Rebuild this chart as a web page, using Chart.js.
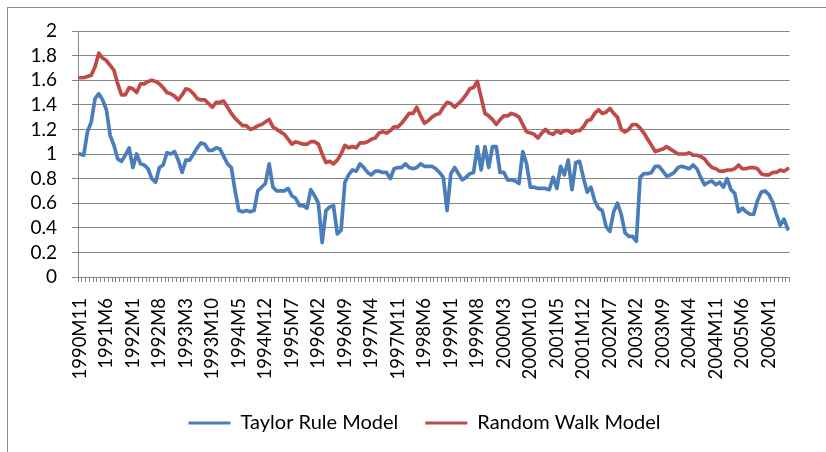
<!DOCTYPE html>
<html>
<head>
<meta charset="utf-8">
<script src="https://cdn.jsdelivr.net/npm/chart.js@4/dist/chart.umd.min.js"></script>
<style>
  body { margin: 0; background: #fff; }
  #wrap { position: relative; width: 826px; height: 452px; overflow: hidden; }
  #borda { position: absolute; left: 7px; top: 7px; width: 900px; height: 500px;
           border-left: 1px solid #8c8c8c; border-top: 1px solid #8c8c8c; }
  #grafico { position: absolute; left: 0; top: 0; }
</style>
</head>
<body>
<div id="wrap">
  <div id="borda"></div>
  <canvas id="grafico" width="826" height="452"></canvas>
</div>
<script>
// categorias mensais
const meses = [
  '1990M11','1990M12',
  '1991M1','1991M2','1991M3','1991M4','1991M5','1991M6','1991M7','1991M8','1991M9','1991M10','1991M11','1991M12',
  '1992M1','1992M2','1992M3','1992M4','1992M5','1992M6','1992M7','1992M8','1992M9','1992M10','1992M11','1992M12',
  '1993M1','1993M2','1993M3','1993M4','1993M5','1993M6','1993M7','1993M8','1993M9','1993M10','1993M11','1993M12',
  '1994M1','1994M2','1994M3','1994M4','1994M5','1994M6','1994M7','1994M8','1994M9','1994M10','1994M11','1994M12',
  '1995M1','1995M2','1995M3','1995M4','1995M5','1995M6','1995M7','1995M8','1995M9','1995M10','1995M11','1995M12',
  '1996M1','1996M2','1996M3','1996M4','1996M5','1996M6','1996M7','1996M8','1996M9','1996M10','1996M11','1996M12',
  '1997M1','1997M2','1997M3','1997M4','1997M5','1997M6','1997M7','1997M8','1997M9','1997M10','1997M11','1997M12',
  '1998M1','1998M2','1998M3','1998M4','1998M5','1998M6','1998M7','1998M8','1998M9','1998M10','1998M11','1998M12',
  '1999M1','1999M2','1999M3','1999M4','1999M5','1999M6','1999M7','1999M8','1999M9','1999M10','1999M11','1999M12',
  '2000M1','2000M2','2000M3','2000M4','2000M5','2000M6','2000M7','2000M8','2000M9','2000M10','2000M11','2000M12',
  '2001M1','2001M2','2001M3','2001M4','2001M5','2001M6','2001M7','2001M8','2001M9','2001M10','2001M11','2001M12',
  '2002M1','2002M2','2002M3','2002M4','2002M5','2002M6','2002M7','2002M8','2002M9','2002M10','2002M11','2002M12',
  '2003M1','2003M2','2003M3','2003M4','2003M5','2003M6','2003M7','2003M8','2003M9','2003M10','2003M11','2003M12',
  '2004M1','2004M2','2004M3','2004M4','2004M5','2004M6','2004M7','2004M8','2004M9','2004M10','2004M11','2004M12',
  '2005M1','2005M2','2005M3','2005M4','2005M5','2005M6','2005M7','2005M8','2005M9','2005M10','2005M11','2005M12',
  '2006M1','2006M2','2006M3','2006M4','2006M5','2006M6'
];

const taylorRule = [
  1.00,0.99,1.18,1.26,1.45,1.49,1.44,1.36,1.15,1.07,
  0.96,0.94,0.99,1.05,0.89,1.00,0.92,0.91,0.88,0.80,
  0.77,0.89,0.91,1.01,1.00,1.02,0.95,0.85,0.95,0.95,
  1.00,1.05,1.09,1.08,1.03,1.03,1.05,1.04,0.98,0.92,
  0.89,0.70,0.54,0.53,0.54,0.53,0.54,0.70,0.73,0.76,
  0.92,0.73,0.70,0.70,0.70,0.72,0.66,0.64,0.58,0.58,
  0.56,0.71,0.66,0.60,0.28,0.54,0.57,0.58,0.35,0.38,
  0.77,0.83,0.87,0.86,0.92,0.89,0.85,0.83,0.86,0.86,
  0.85,0.85,0.80,0.88,0.89,0.89,
  0.92,0.89,0.88,0.89,0.92,0.90,0.90,0.90,0.88,0.85,
  0.81,0.54,0.84,0.89,0.84,0.79,0.81,0.84,0.85,1.06,
  0.87,1.06,0.89,1.06,1.06,0.85,0.85,0.79,0.79,0.78,
  0.76,1.02,0.92,0.73,0.73,0.72,0.72,0.72,0.71,0.81,
  0.72,0.90,0.83,0.95,0.71,0.93,0.94,0.81,0.69,0.73,
  0.62,0.56,0.54,0.41,0.37,0.53,0.60,0.51,0.36,0.33,
  0.33,0.29,0.81,0.84,0.84,0.85,0.90,0.90,0.86,0.82,
  0.83,0.85,0.89,0.90,0.89,0.88,0.91,0.88,0.81,0.75,
  0.77,0.78,0.75,0.77,0.73,0.80,0.71,0.68,0.53,0.56,
  0.53,0.51,0.51,0.62,0.69,0.70,0.67,0.61,0.51,0.42,
  0.47,0.39
];

const randomWalk = [
  1.62,1.62,1.63,1.64,1.71,1.82,1.78,1.76,1.72,1.68,
  1.57,1.48,1.48,1.54,1.53,1.50,1.57,1.57,1.59,1.60,
  1.59,1.57,1.54,1.50,1.49,1.47,1.44,1.48,1.53,1.52,
  1.49,1.45,1.44,1.44,1.41,1.38,1.42,1.42,1.43,1.38,
  1.33,1.29,1.26,1.23,1.23,1.20,1.21,1.23,1.24,1.26,
  1.28,1.22,1.20,1.18,1.16,1.12,1.08,1.10,1.09,1.08,
  1.08,1.10,1.10,1.08,1.00,0.93,0.94,0.92,0.95,1.00,
  1.07,1.05,1.06,1.05,1.09,1.09,1.10,1.12,1.13,1.17,
  1.18,1.17,1.19,1.22,1.22,1.25,
  1.29,1.33,1.33,1.38,1.31,1.25,1.27,1.30,1.32,1.33,
  1.38,1.42,1.41,1.38,1.41,1.44,1.48,1.53,1.54,1.59,
  1.46,1.33,1.31,1.28,1.24,1.28,1.31,1.31,1.33,1.32,
  1.30,1.24,1.18,1.17,1.16,1.13,1.17,1.20,1.17,1.16,
  1.19,1.17,1.19,1.19,1.17,1.19,1.19,1.22,1.27,1.28,
  1.33,1.36,1.33,1.34,1.37,1.33,1.30,1.20,1.18,1.20,
  1.24,1.24,1.21,1.17,1.12,1.07,1.02,1.03,1.04,1.06,
  1.04,1.02,1.00,1.00,1.00,1.01,0.99,0.99,0.98,0.96,
  0.92,0.89,0.88,0.86,0.86,0.87,0.87,0.88,0.91,0.88,
  0.88,0.89,0.89,0.88,0.84,0.83,0.83,0.85,0.85,0.87,
  0.86,0.88
];

const nomesSeries = ['Taylor Rule Model', 'Random Walk Model'];
const passoRotulo = 7;

const fonteLegenda = { family: 'Lato', size: 20 };
const fonteX = { family: 'Lato', size: 18.5 };
const fonteY = { family: 'Lato', size: 19 };
const cinza = '#868686';

// empurra a legenda um pouco para a direita, como no original
const deslocaLegenda = {
  id: 'deslocaLegenda',
  afterLayout(chart) {
    chart.legend.left += 6;
    chart.legend.right += 6;
  }
};

const ctx = document.getElementById('grafico').getContext('2d');

new Chart(ctx, {
  type: 'line',
  data: {
    labels: meses,
    datasets: [{
      label: nomesSeries[0],
      data: taylorRule,
      borderColor: '#4a7ebb',
      backgroundColor: '#4a7ebb',
      borderWidth: 3.7,
      pointRadius: 0,
      tension: 0,
      borderJoinStyle: 'round',
      borderCapStyle: 'round'
    }, {
      label: nomesSeries[1],
      data: randomWalk,
      borderColor: '#be4b48',
      backgroundColor: '#be4b48',
      borderWidth: 3.7,
      pointRadius: 0,
      tension: 0,
      borderJoinStyle: 'round',
      borderCapStyle: 'round'
    }]
  },
  plugins: [deslocaLegenda],
  options: {
    responsive: false,
    animation: false,
    devicePixelRatio: 1,
    layout: { padding: { left: 24, right: 13, top: 31, bottom: 9 } },
    plugins: {
      tooltip: { enabled: false },
      legend: {
        position: 'bottom',
        labels: {
          boxWidth: 42,
          boxHeight: 3,
          padding: 27,
          color: '#000',
          font: fonteLegenda,
          generateLabels: chart => Chart.defaults.plugins.legend.labels.generateLabels(chart)
            .map(l => ({ ...l, lineWidth: 0 }))
        }
      }
    },
    scales: {
      x: {
        offset: true,
        grid: { offset: true, drawOnChartArea: false, drawTicks: true, tickLength: 5, color: cinza },
        border: { color: cinza },
        ticks: {
          autoSkip: false,
          minRotation: 90,
          maxRotation: 90,
          padding: 16,
          color: '#000',
          font: fonteX,
          callback: (v, i) => (i % passoRotulo === 0 ? meses[i] : '')
        },
        afterFit: s => { s.height = 109; }
      },
      y: {
        min: 0,
        max: 2,
        grid: { color: cinza, tickLength: 6 },
        border: { color: cinza },
        ticks: {
          autoSkip: false,
          stepSize: 0.2,
          padding: 15,
          color: '#000',
          font: fonteY,
          callback: v => +v.toFixed(1)
        },
        afterFit: s => { s.width = 54; }
      }
    }
  }
});
</script>
</body>
</html>
